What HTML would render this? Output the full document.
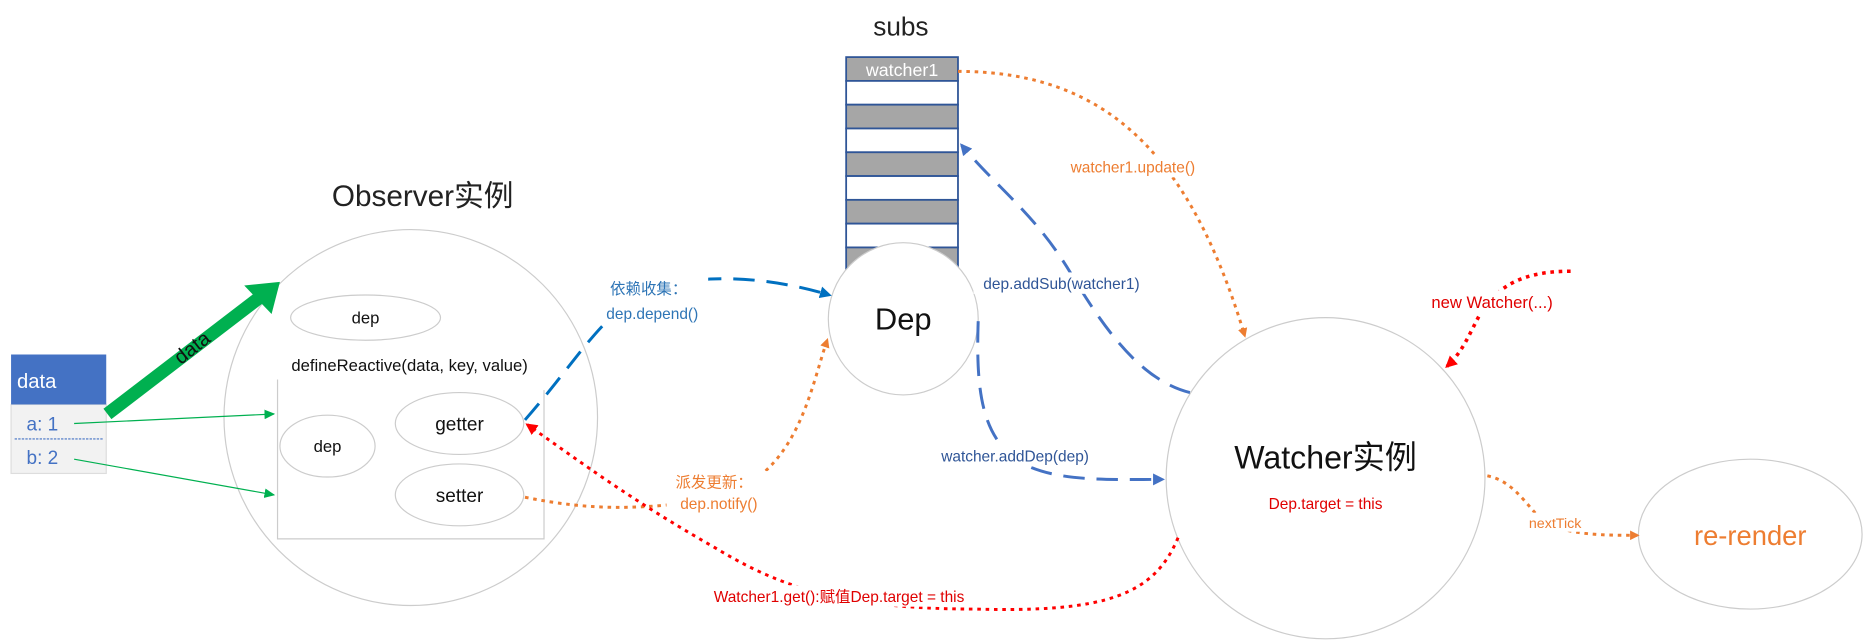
<!DOCTYPE html>
<html><head><meta charset="utf-8"><style>
html,body{margin:0;padding:0;background:#fff;}
svg{display:block;}
text{font-family:"Liberation Sans","Noto Sans CJK SC",sans-serif;}
</style></head><body>
<svg width="1866" height="640" viewBox="0 0 1568 538" xmlns="http://www.w3.org/2000/svg">
<defs>
<marker id="ao" markerWidth="8" markerHeight="8" refX="6" refY="4" orient="auto" markerUnits="userSpaceOnUse"><path d="M0,0 L8,4 L0,8 z" fill="#ED7D31"/></marker>
<marker id="ab" markerWidth="10" markerHeight="10" refX="8" refY="5" orient="auto" markerUnits="userSpaceOnUse"><path d="M0,0 L10,5 L0,10 z" fill="#4472C4"/></marker>
<marker id="ab2" markerWidth="10" markerHeight="10" refX="8" refY="5" orient="auto" markerUnits="userSpaceOnUse"><path d="M0,0 L10,5 L0,10 z" fill="#0070C0"/></marker>
<marker id="ar" markerWidth="10" markerHeight="10" refX="8" refY="5" orient="auto" markerUnits="userSpaceOnUse"><path d="M0,0 L10,5 L0,10 z" fill="#FF0000"/></marker>
<marker id="ag" markerWidth="9" markerHeight="8" refX="8" refY="4" orient="auto" markerUnits="userSpaceOnUse"><path d="M0,0 L9,4 L0,8 z" fill="#00B050"/></marker>
</defs>

<!-- subs stack -->
<text x="757" y="30" font-size="22" text-anchor="middle" fill="#222">subs</text>
<g stroke="#2F5597" stroke-width="1.5">
<rect x="711" y="48" width="94" height="20" fill="#A6A6A6"/>
<rect x="711" y="68" width="94" height="20" fill="#fff"/>
<rect x="711" y="88" width="94" height="20" fill="#A6A6A6"/>
<rect x="711" y="108" width="94" height="20" fill="#fff"/>
<rect x="711" y="128" width="94" height="20" fill="#A6A6A6"/>
<rect x="711" y="148" width="94" height="20" fill="#fff"/>
<rect x="711" y="168" width="94" height="20" fill="#A6A6A6"/>
<rect x="711" y="188" width="94" height="20" fill="#fff"/>
<rect x="711" y="208" width="94" height="22" fill="#A6A6A6"/>
</g>
<text x="758" y="64" font-size="15" text-anchor="middle" fill="#fff">watcher1</text>

<!-- Dep circle -->
<ellipse cx="759" cy="268" rx="63" ry="64" fill="#fff" stroke="#ccc"/>
<text x="759" y="277" font-size="26" text-anchor="middle" fill="#111">Dep</text>

<!-- Observer -->
<text x="355" y="173" font-size="25" text-anchor="middle" fill="#222">Observer实例</text>
<ellipse cx="345" cy="351" rx="157" ry="158" fill="none" stroke="#ccc"/>
<ellipse cx="307" cy="267" rx="63" ry="19" fill="#fff" stroke="#ccc"/>
<text x="307" y="272" font-size="14" text-anchor="middle" fill="#111">dep</text>
<text x="344" y="312" font-size="14" text-anchor="middle" fill="#111">defineReactive(data, key, value)</text>
<path d="M233,319 L233,453 L457,453 L457,328" fill="none" stroke="#ccc"/>
<ellipse cx="275" cy="375" rx="40" ry="26" fill="#fff" stroke="#ccc"/>
<text x="275" y="380" font-size="14" text-anchor="middle" fill="#111">dep</text>
<ellipse cx="386" cy="356" rx="54" ry="26" fill="#fff" stroke="#ccc"/>
<text x="386" y="362" font-size="16" text-anchor="middle" fill="#111">getter</text>
<ellipse cx="386" cy="416" rx="54" ry="26" fill="#fff" stroke="#ccc"/>
<text x="386" y="422" font-size="16" text-anchor="middle" fill="#111">setter</text>

<!-- data box -->
<rect x="9" y="340" width="80" height="58" fill="#F2F2F2" stroke="#ddd"/>
<rect x="9" y="298" width="80" height="42" fill="#4472C4"/>
<text x="14" y="326" font-size="17" fill="#fff">data</text>
<text x="22" y="362" font-size="16" fill="#4472C4">a: 1</text>
<line x1="12" y1="369" x2="86" y2="369" stroke="#4472C4" stroke-dasharray="2,1"/>
<text x="22" y="390" font-size="16" fill="#4472C4">b: 2</text>

<!-- green arrows -->
<line x1="90" y1="348" x2="218" y2="250" stroke="#00B050" stroke-width="11"/>
<path d="M205,240 L235,237 L228,264 z" fill="#00B050"/>
<text x="0" y="6" font-size="17" fill="#111" transform="translate(161,292) rotate(-38)" text-anchor="middle">data</text>
<line x1="62" y1="356" x2="230" y2="348" stroke="#00B050" marker-end="url(#ag)"/>
<line x1="62" y1="386" x2="230" y2="416" stroke="#00B050" marker-end="url(#ag)"/>

<!-- Watcher -->
<ellipse cx="1114" cy="402" rx="134" ry="135" fill="none" stroke="#ccc"/>
<text x="1114" y="394" font-size="27" text-anchor="middle" fill="#111">Watcher实例</text>
<text x="1114" y="428" font-size="13" text-anchor="middle" fill="#E00000">Dep.target = this</text>

<!-- re-render -->
<ellipse cx="1471" cy="449" rx="94" ry="63" fill="none" stroke="#ccc"/>
<text x="1471" y="458" font-size="23" text-anchor="middle" fill="#ED7D31">re-render</text>

<!-- connectors -->
<path d="M805,60 C930,60 1000,130 1046,282" fill="none" stroke="#ED7D31" stroke-width="2.5" stroke-dasharray="3,4" marker-end="url(#ao)"/>
<rect x="892" y="131" width="122" height="18" fill="#fff"/>
<text x="952" y="145" font-size="13" text-anchor="middle" fill="#ED7D31">watcher1.update()</text>

<path d="M1000,330 C960,320 930,280 900,230 C870,180 840,160 808,122" fill="none" stroke="#4472C4" stroke-width="2.5" stroke-dasharray="18,10" marker-end="url(#ab)"/>
<rect x="818" y="229" width="148" height="18" fill="#fff"/>
<text x="892" y="243" font-size="13" text-anchor="middle" fill="#2F5597">dep.addSub(watcher1)</text>

<path d="M822,270 C820,330 825,370 860,390 C890,405 930,403 977,403" fill="none" stroke="#4472C4" stroke-width="2.5" stroke-dasharray="18,10" marker-end="url(#ab)"/>
<rect x="782" y="374" width="142" height="18" fill="#fff"/>
<text x="853" y="388" font-size="13" text-anchor="middle" fill="#2F5597">watcher.addDep(dep)</text>

<path d="M441,353 C470,320 490,290 510,270 C540,230 620,225 697,248" fill="none" stroke="#0070C0" stroke-width="2.5" stroke-dasharray="18,10" marker-end="url(#ab2)"/>
<rect x="505" y="230" width="90" height="40" fill="#fff"/>
<text x="545" y="247" font-size="13" text-anchor="middle" fill="#2E75B6">依赖收集：</text>
<text x="548" y="268" font-size="13" text-anchor="middle" fill="#2E75B6">dep.depend()</text>

<path d="M441,418 C500,430 540,428 600,420 C670,400 680,330 695,286" fill="none" stroke="#ED7D31" stroke-width="2.5" stroke-dasharray="3,4" marker-end="url(#ao)"/>
<rect x="560" y="396" width="86" height="36" fill="#fff"/>
<text x="600" y="410" font-size="13" text-anchor="middle" fill="#ED7D31">派发更新：</text>
<text x="604" y="428" font-size="13" text-anchor="middle" fill="#ED7D31">dep.notify()</text>

<path d="M990,452 C970,500 930,515 820,512 C700,512 650,490 600,460 C530,420 490,390 443,357" fill="none" stroke="#FF0000" stroke-width="2.5" stroke-dasharray="3,4" marker-end="url(#ar)"/>
<rect x="582" y="492" width="248" height="18" fill="#fff"/>
<text x="705" y="506" font-size="13" text-anchor="middle" fill="#E00000">Watcher1.get():赋值Dep.target = this</text>

<path d="M1320,228 C1280,228 1260,240 1245,262 C1235,280 1230,295 1216,308" fill="none" stroke="#FF0000" stroke-width="3" stroke-dasharray="3,4" marker-end="url(#ar)"/>
<rect x="1190" y="244" width="128" height="20" fill="#fff"/>
<text x="1254" y="259" font-size="14" text-anchor="middle" fill="#E00000">new Watcher(...)</text>

<path d="M1250,400 C1275,405 1285,430 1300,440 C1320,450 1350,450 1376,450" fill="none" stroke="#ED7D31" stroke-width="2.5" stroke-dasharray="3,4" marker-end="url(#ao)"/>
<rect x="1280" y="431" width="56" height="16" fill="#fff"/>
<text x="1307" y="444" font-size="12" text-anchor="middle" fill="#ED7D31">nextTick</text>
</svg>
</body></html>
